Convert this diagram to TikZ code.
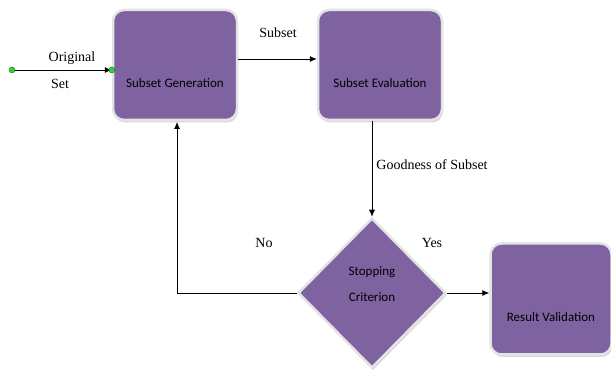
\documentclass[tikz,border=0pt]{standalone}
\usepackage{fontspec}
\setmainfont{Liberation Serif}
\newfontfamily\boxfont{Carlito}
\usetikzlibrary{shapes.geometric,shadows,arrows.meta}

\definecolor{boxpurple}{HTML}{7F63A1}
\definecolor{rimgray}{HTML}{E4E4E4}
\definecolor{dotgreen}{HTML}{22DD22}

\tikzset{
  stepbox/.style={rectangle, rounded corners=11pt, fill=boxpurple, draw=rimgray,
    line width=2.5pt, minimum width=124pt, minimum height=110pt,
    font=\boxfont\fontsize{13}{15}\selectfont, text height=48pt, text depth=3pt,
    drop shadow={fill=gray!60, shadow xshift=1pt, shadow yshift=-2.5pt}},
  testbox/.style={diamond, fill=boxpurple, draw=rimgray, line width=2.5pt,
    minimum width=148pt, minimum height=150pt, inner sep=0pt, align=center,
    font=\boxfont\fontsize{13}{26}\selectfont, text depth=18pt,
    drop shadow={fill=gray!60, shadow xshift=1pt, shadow yshift=-2.5pt}},
  flow/.style={draw=black, line width=0.8pt, -{Latex[length=7pt,width=6pt]}},
  tag/.style={font=\fontsize{14}{16}\selectfont},
  enddot/.style={circle, fill=dotgreen, draw=black!70, line width=0.4pt,
    inner sep=0pt, minimum size=6pt}
}

\begin{document}
\begin{tikzpicture}[x=1pt, y=-1pt]

      \useasboundingbox (0, 0) rectangle (611, 371);

      % les blocs
      \node[stepbox] (gen)  at (175, 65)  {Subset Generation};
      \node[stepbox] (eval) at (380, 65)  {Subset Evaluation};
      \node[testbox] (crit) at (372, 293) {Stopping\\Criterion};
      \node[stepbox, minimum width=121pt, minimum height=111pt] (valid) at (551, 299) {Result Validation};

      % entree
      \coordinate (src) at (12, 70);
      \coordinate (dst) at (gen.west |- src);
      \draw[flow] (src) -- (dst);
      \node[enddot] (srcdot) at (src) {};
      \node[enddot] (dstdot) at (dst) {};

      % fleches
      \draw[flow] (gen.east |- 0, 59) -- (eval.west |- 0, 59);
      \draw[flow] (eval.south -| crit) -- (crit.north);
      \draw[flow] (crit.east) -- (crit.east -| valid.west);
      \draw[flow] (crit.west) -- (177, 293) -- (177, 122);

      % etiquettes
      \node[tag] (orig)  at (72, 58)   {Original};
      \node[tag] (set)   at (60, 84)   {Set};
      \node[tag] (sub)   at (278, 33)  {Subset};
      \node[tag] (good)  at (432, 165) {Goodness of Subset};
      \node[tag] (no)    at (264, 243) {No};
      \node[tag] (yes)   at (432, 243) {Yes};
    \end{tikzpicture}
\end{document}
